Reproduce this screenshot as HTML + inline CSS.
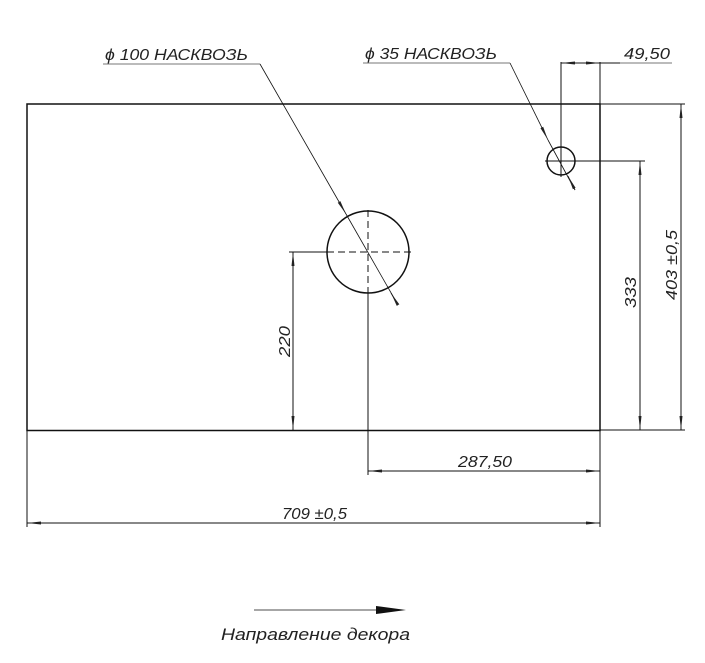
<!DOCTYPE html>
<html><head><meta charset="utf-8"><style>body{margin:0;background:#fff}svg{display:block}text{font-family:"Liberation Sans",sans-serif;font-style:italic;fill:#222}</style></head><body>
<svg width="705" height="663" viewBox="0 0 705 663" xmlns="http://www.w3.org/2000/svg">
<defs><marker id="a" markerWidth="14" markerHeight="4" refX="14" refY="2" orient="auto" markerUnits="userSpaceOnUse"><path d="M0,0.5 L14,2 L0,3.5z" fill="#222"/></marker></defs>
<g stroke="#111" fill="none">
<rect x="27" y="104" width="573" height="326.5" stroke-width="1.5"/>
<circle cx="368" cy="252" r="41" stroke-width="1.5"/>
<circle cx="561" cy="161" r="14" stroke-width="1.5"/>
<g stroke-width="1">
<line x1="368" y1="210" x2="368" y2="294" stroke-dasharray="7,4"/>
<line x1="368" y1="294" x2="368" y2="475"/>
<line x1="289" y1="252" x2="327" y2="252"/>
<line x1="327" y1="252" x2="413" y2="252" stroke-dasharray="7,4"/>
<line x1="561" y1="62" x2="561" y2="177"/>
<line x1="545" y1="161" x2="645" y2="161"/>
<line x1="600" y1="62" x2="600" y2="527"/>
<line x1="600" y1="104" x2="685" y2="104"/>
<line x1="600" y1="430" x2="685" y2="430"/>
<line x1="27" y1="430" x2="27" y2="527"/>
<line x1="561" y1="63" x2="672" y2="63"/>
<line x1="580" y1="63" x2="561" y2="63" marker-end="url(#a)"/>
<line x1="580" y1="63" x2="600" y2="63" marker-end="url(#a)"/>
<line x1="293" y1="341" x2="293" y2="252" marker-end="url(#a)"/>
<line x1="293" y1="341" x2="293" y2="430" marker-end="url(#a)"/>
<line x1="640" y1="300" x2="640" y2="161" marker-end="url(#a)"/>
<line x1="640" y1="300" x2="640" y2="430" marker-end="url(#a)"/>
<line x1="681" y1="267" x2="681" y2="104" marker-end="url(#a)"/>
<line x1="681" y1="267" x2="681" y2="430" marker-end="url(#a)"/>
<line x1="484" y1="471" x2="368" y2="471" marker-end="url(#a)"/>
<line x1="484" y1="471" x2="600" y2="471" marker-end="url(#a)"/>
<line x1="313" y1="523" x2="27" y2="523" marker-end="url(#a)"/>
<line x1="313" y1="523" x2="600" y2="523" marker-end="url(#a)"/>
<line x1="103" y1="64" x2="260" y2="64" stroke="#777"/>
<line x1="363" y1="63" x2="510" y2="63" stroke="#777"/>
<line x1="672" y1="63" x2="620" y2="63" stroke="#777"/>
<line x1="260" y1="64" x2="346" y2="214" stroke-width="0.8" marker-end="url(#a)"/>
<line x1="346" y1="214" x2="398" y2="305" stroke-width="0.8"/>
<line x1="398" y1="305" x2="391" y2="293" stroke-width="0.8" marker-end="url(#a)"/>
<line x1="510" y1="63" x2="548" y2="140" stroke-width="0.8" marker-end="url(#a)"/>
<line x1="548" y1="140" x2="575" y2="190" stroke-width="0.8"/>
<line x1="575" y1="190" x2="568" y2="176" stroke-width="0.8" marker-end="url(#a)"/>
<line x1="254" y1="610" x2="378" y2="610" stroke="#888" stroke-width="1.5"/>
</g></g>
<path d="M376,606 L406,610 L376,614z" fill="#111"/>
<text x="105" y="60" font-size="16" textLength="143" lengthAdjust="spacingAndGlyphs">ϕ 100 НАСКВОЗЬ</text>
<text x="365" y="59" font-size="16" textLength="132" lengthAdjust="spacingAndGlyphs">ϕ 35 НАСКВОЗЬ</text>
<text x="624" y="59" font-size="16" textLength="46" lengthAdjust="spacingAndGlyphs">49,50</text>
<text x="458" y="467" font-size="16" textLength="54" lengthAdjust="spacingAndGlyphs">287,50</text>
<text x="282" y="519" font-size="16" textLength="65" lengthAdjust="spacingAndGlyphs">709 ±0,5</text>
<text transform="translate(290,357) rotate(-90)" font-size="16" textLength="31" lengthAdjust="spacingAndGlyphs">220</text>
<text transform="translate(636,308) rotate(-90)" font-size="16" textLength="31" lengthAdjust="spacingAndGlyphs">333</text>
<text transform="translate(677,300) rotate(-90)" font-size="16" textLength="70" lengthAdjust="spacingAndGlyphs">403 ±0,5</text>
<text x="221" y="640" font-size="17" textLength="189" lengthAdjust="spacingAndGlyphs">Направление декора</text>
</svg>
</body></html>
